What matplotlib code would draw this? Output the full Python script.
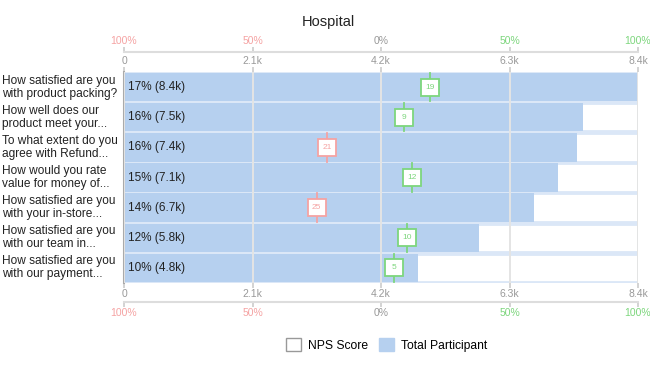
import matplotlib.pyplot as plt
from matplotlib.patches import Patch, Rectangle
from matplotlib.transforms import blended_transform_factory

plt.rcParams['font.family'] = ['Liberation Sans', 'DejaVu Sans']

# data
questions = [
    'How satisfied are you\nwith product packing?',
    'How well does our\nproduct meet your...',
    'To what extent do you\nagree with Refund...',
    'How would you rate\nvalue for money of...',
    'How satisfied are you\nwith your in-store...',
    'How satisfied are you\nwith our team in...',
    'How satisfied are you\nwith our payment...',
]
participants = [8.4, 7.5, 7.4, 7.1, 6.7, 5.8, 4.8]   # thousands
shares = [17, 16, 16, 15, 14, 12, 10]                 # percent
nps = [19, 9, -21, 12, -25, 10, 5]
count_ticks = [0, 2.1, 4.2, 6.3, 8.4]
count_labels = ['0', '2.1k', '4.2k', '6.3k', '8.4k']
pct_ticks = [-100, -50, 0, 50, 100]
pct_labels = ['100%', '50%', '0%', '50%', '100%']

bar_col = '#b6d0ef'
row_col = '#dbe7f7'
green = '#7dd67d'
red = '#f5a3a3'
tick_col = '#999999'
xmax = count_ticks[-1]

fig = plt.figure(figsize=(6.5, 3.72), dpi=100)
ax = fig.add_axes([124 / 650, 1 - 283 / 372, 514 / 650, 211 / 372])

rows = list(range(len(questions)))
ax.barh(rows, [xmax] * len(rows), height=0.94, color='white',
        edgecolor=row_col, linewidth=2, zorder=1)
ax.barh(rows, participants, height=0.94, color=bar_col, linewidth=0, zorder=2)
ax.set_xlim(0, xmax)
ax.set_ylim(len(rows) - 0.5, -0.5)

for x in count_ticks:
    ax.axvline(x, color='#e4e4e4', lw=1.4, zorder=3)

for i, (s, p) in enumerate(zip(shares, participants)):
    ax.text(0.06, i, f'{s}% ({p}k)', va='center', ha='left', fontsize=8.5,
            color='#222222', zorder=5)

# NPS markers
bw, bh = 0.29, 0.56
for i, v in enumerate(nps):
    c = green if v >= 0 else red
    x = (v + 100) / 200 * xmax
    ax.plot([x, x], [i - 0.47, i + 0.47], color=c, lw=1.3, zorder=4)
    ax.add_patch(Rectangle((x - bw / 2, i - bh / 2), bw, bh, facecolor='white',
                           edgecolor=c, lw=1.3, zorder=5))
    ax.text(x, i, str(abs(v)), ha='center', va='center',
            fontsize=6, color=c, zorder=6)

# y labels, left aligned at figure edge
tr = blended_transform_factory(fig.transFigure, ax.transData)
for i, q in enumerate(questions):
    ax.text(2 / 650, i, q, transform=tr, ha='left', va='center', fontsize=8.6,
            color='#222222', linespacing=1.1)
ax.set_yticks([])

for sp in ['top', 'bottom', 'right']:
    ax.spines[sp].set_visible(False)
ax.spines['left'].set_color('#aaaaaa')
ax.spines['left'].set_linewidth(1.5)

ax.set_xticks(count_ticks, count_labels)
ax.tick_params(axis='x', top=True, labeltop=True, bottom=True, labelbottom=True,
               length=3.6, width=1.2, color='#cccccc', labelcolor=tick_col,
               labelsize=7.5, pad=1)


def to_pct(x):
    return x / (xmax / 2) * 100 - 100


def from_pct(p):
    return (p + 100) / 100 * (xmax / 2)


pct_colors = [red, red, tick_col, green, green]
for loc, pos in [(1.095, 'top'), (-0.09, 'bottom')]:
    sec = ax.secondary_xaxis(loc, functions=(to_pct, from_pct))
    sec.set_xticks(pct_ticks, pct_labels)
    sec.tick_params(length=3.6, width=1.2, color='#cccccc', labelsize=7.5, pad=1)
    sec.spines[pos].set_color('#dddddd')
    sec.spines[pos].set_linewidth(1.5)
    for lab, c in zip(sec.get_xticklabels(), pct_colors):
        lab.set_color(c)

fig.text(0.505, 1 - 22 / 372, 'Hospital', ha='center', va='center',
         fontsize=10.5, color='#222222')

handles = [Patch(facecolor='white', edgecolor='#999999', label='NPS Score'),
           Patch(facecolor=bar_col, edgecolor=bar_col, label='Total Participant')]
fig.legend(handles=handles, loc='center', bbox_to_anchor=(0.595, 1 - 345 / 372),
           ncol=2, frameon=False, fontsize=8.7, handlelength=1.25, handleheight=1.25,
           columnspacing=0.9, handletextpad=0.6)

fig.savefig('out.png', dpi=100)
